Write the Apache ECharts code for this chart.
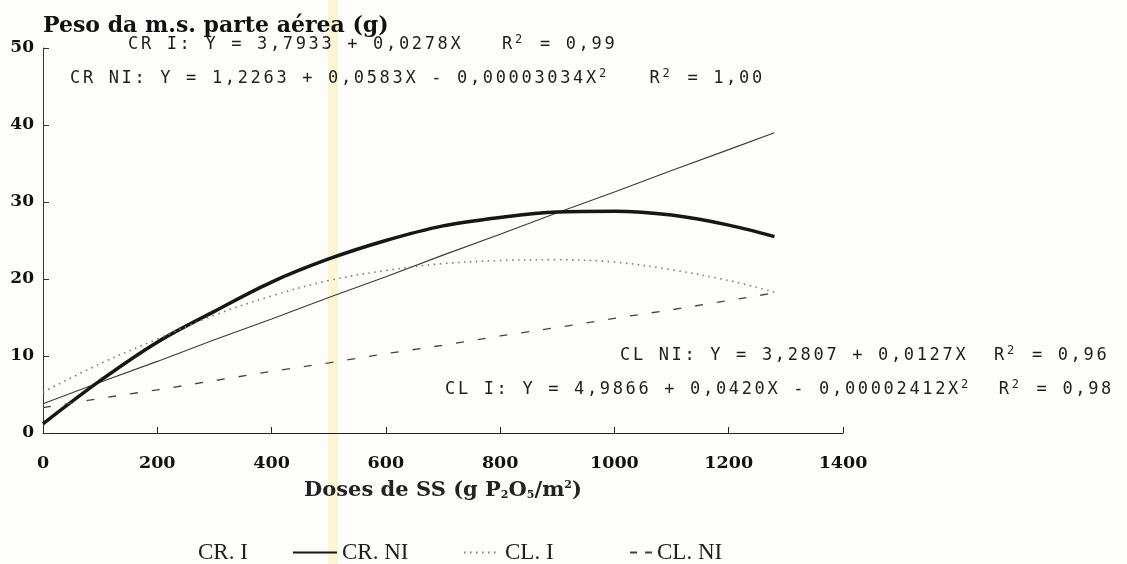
<!DOCTYPE html>
<html>
<head>
<meta charset="utf-8">
<script src="https://cdn.jsdelivr.net/npm/echarts@6/dist/echarts.min.js"></script>
<style>
html,body{margin:0;padding:0;background:#fdfdfb;}
#c{width:1127px;height:564px;}
</style>
</head>
<body>
<div id="c"></div>
<script>
// Data
var doses = [0, 100, 200, 300, 400, 500, 600, 700, 800, 900, 1000, 1100, 1200, 1280];
var crI  = [3.8, 6.6, 9.3, 12.1, 14.8, 17.6, 20.3, 23.1, 25.8, 28.6, 31.3, 34.1, 36.8, 39.0];
var crNI = [1.2, 6.8, 11.8, 15.8, 19.6, 22.6, 25.0, 26.9, 28.0, 28.7, 28.8, 28.3, 27.0, 25.5];
var clI  = [5.3, 9.0, 12.2, 15.3, 17.8, 19.8, 21.1, 22.0, 22.4, 22.5, 22.2, 21.2, 19.8, 18.3];
var clNI = [3.3, 4.5, 5.6, 6.8, 8.0, 9.1, 10.3, 11.4, 12.6, 13.7, 14.9, 16.0, 17.2, 18.2];
var seriesNames = ['CR. I', 'CR. NI', 'CL. I', 'CL. NI'];
var xTicks = [0, 200, 400, 600, 800, 1000, 1200, 1400];
var yTicks = [0, 10, 20, 30, 40, 50];
// Equation texts ("^" marks a superscript 2)
var eqCRI  = 'CR I: Y = 3,7933 + 0,0278X   R^ = 0,99';
var eqCRNI = 'CR NI: Y = 1,2263 + 0,0583X - 0,00003034X^   R^ = 1,00';
var eqCLNI = 'CL NI: Y = 3,2807 + 0,0127X  R^ = 0,96';
var eqCLI  = 'CL I: Y = 4,9866 + 0,0420X - 0,00002412X^  R^ = 0,98';

function pairs(ys) { return doses.map(function (d, i) { return [d, ys[i]]; }); }

var mono = 'DejaVu Sans Mono';
var serif = 'DejaVu Serif';
var eqRich = {
  c: { fontFamily: mono, fontSize: 17, color: '#1e1e1e', width: 12.9, lineHeight: 22 },
  s: { fontFamily: mono, fontSize: 12, color: '#1e1e1e', width: 12, lineHeight: 22, padding: [0, 0, 10, 0] }
};
function spaced(str) {
  var out = '';
  for (var i = 0; i < str.length; i++) {
    var ch = str.charAt(i);
    out += ch === '^' ? '{s|2}' : '{c|' + ch + '}';
  }
  return out;
}
function eq(x, y, txt) {
  return { type: 'text', left: x, top: y, z: 10, silent: true,
    style: { text: spaced(txt), rich: eqRich, font: '17px ' + mono, fill: '#1e1e1e' } };
}

var legendText = { fontFamily: 'Liberation Serif', fontSize: 23, color: '#1e1e1e' };

var chart = echarts.init(document.getElementById('c'), null, { renderer: 'canvas' });
chart.setOption({
  backgroundColor: '#fdfdfb',
  animation: false,
  grid: { left: 43, right: 284, top: 48, bottom: 131, containLabel: false },
  xAxis: {
    type: 'value', min: 0, max: 1400, interval: 200,
    name: 'Doses de SS (g P{sb|2}O{sb|5}/m{sp|2})',
    nameLocation: 'middle', nameGap: 47,
    nameTextStyle: {
      fontFamily: serif, fontWeight: 'bold', fontSize: 21, color: '#222',
      rich: {
        sb: { fontFamily: serif, fontSize: 11, fontWeight: 'bold', color: '#222', padding: [10, 0, 0, 0] },
        sp: { fontFamily: serif, fontSize: 11, fontWeight: 'bold', color: '#222', padding: [0, 0, 10, 0] }
      }
    },
    axisLine: { lineStyle: { color: '#222', width: 1.2 } },
    axisTick: { inside: true, length: 6, lineStyle: { color: '#222' } },
    axisLabel: { fontFamily: serif, fontWeight: 'bold', fontSize: 17.5, color: '#111', margin: 21,
      formatter: function (v) { return xTicks.indexOf(v) >= 0 ? String(v) : ''; } },
    splitLine: { show: false }
  },
  yAxis: {
    type: 'value', min: 0, max: 50, interval: 10,
    name: 'Peso da m.s. parte aérea (g)',
    nameLocation: 'end', nameGap: 11,
    nameTextStyle: { fontFamily: serif, fontWeight: 'bold', fontSize: 22, color: '#111', align: 'left' },
    axisLine: { show: true, lineStyle: { color: '#333', width: 1 } },
    axisTick: { show: true, inside: true, length: 6, lineStyle: { color: '#333' } },
    axisLabel: { fontFamily: serif, fontWeight: 'bold', fontSize: 17, color: '#111', margin: 9,
      formatter: function (v) { return yTicks.indexOf(v) >= 0 ? String(v) : ''; } },
    splitLine: { show: false }
  },
  legend: [
    { data: [{ name: seriesNames[0], lineStyle: { opacity: 0 }, itemStyle: { opacity: 0 } }], left: 152, top: 541,
      padding: 0, itemWidth: 40, itemStyle: { opacity: 0 }, textStyle: legendText },
    { data: [seriesNames[1]], left: 292, top: 541, padding: 0, itemWidth: 44, itemStyle: { opacity: 0 },
      textStyle: legendText },
    { data: [seriesNames[2]], left: 463, top: 541, padding: 0, itemWidth: 36, itemStyle: { opacity: 0 },
      textStyle: legendText },
    { data: [{ name: seriesNames[3], lineStyle: { type: [7, 8] } }], left: 629, top: 541, padding: 0, itemWidth: 22,
      itemStyle: { opacity: 0 }, textStyle: legendText }
  ],
  series: [
    { name: seriesNames[0], type: 'line', data: pairs(crI), symbol: 'none', smooth: false,
      lineStyle: { color: '#3a3a3a', width: 1.1 }, itemStyle: { color: '#3a3a3a' } },
    { name: seriesNames[1], type: 'line', data: pairs(crNI), symbol: 'none', smooth: 0.35,
      lineStyle: { color: '#161616', width: 3.5 }, itemStyle: { color: '#161616' } },
    { name: seriesNames[2], type: 'line', data: pairs(clI), symbol: 'none', smooth: 0.35,
      lineStyle: { color: '#7a7a7a', width: 1.6, type: [1.5, 4.5] }, itemStyle: { color: '#7a7a7a' } },
    { name: seriesNames[3], type: 'line', data: pairs(clNI), symbol: 'none', smooth: false,
      lineStyle: { color: '#444', width: 1.3, type: [8, 14] }, itemStyle: { color: '#444' } }
  ],
  graphic: [
    { type: 'rect', shape: { x: 328, y: 0, width: 10, height: 564 }, z: -10, silent: true,
      style: { fill: 'rgba(250, 228, 140, 0.35)' } },
    eq(128, 34, eqCRI),
    eq(70, 68, eqCRNI),
    eq(620, 345, eqCLNI),
    eq(445, 379, eqCLI)
  ]
});
</script>
</body>
</html>
